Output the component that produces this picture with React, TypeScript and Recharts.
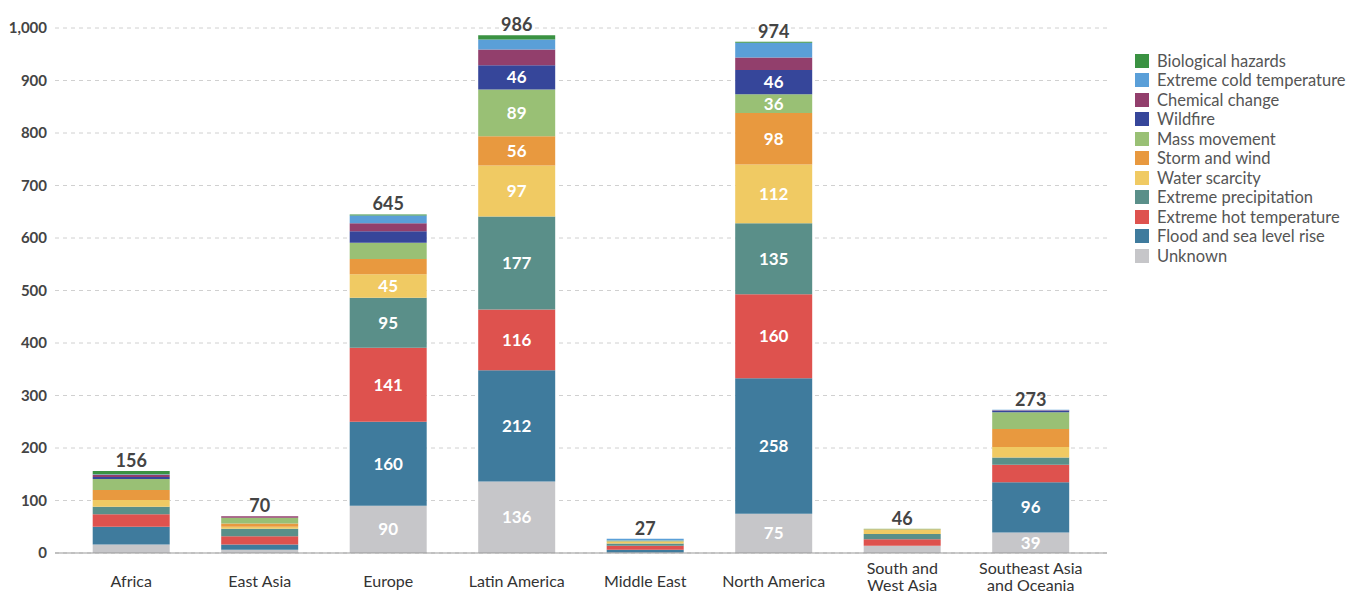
import { BarChart, Bar, XAxis, YAxis, CartesianGrid, LabelList } from "recharts";

// ── Data ──────────────────────────────────────────────────────────────────
const regions = [
  "Africa",
  "East Asia",
  "Europe",
  "Latin America",
  "Middle East",
  "North America",
  "South and West Asia",
  "Southeast Asia and Oceania",
];

// stacked bottom → top
const unknown   = [16, 6, 90, 136, 1, 75, 14, 39];
const flood     = [34, 10, 160, 212, 5, 258, 0, 96];
const hotTemp   = [24, 16, 141, 116, 8, 160, 12, 33];
const precip    = [14, 14, 95, 177, 4, 135, 10, 14];
const water     = [13, 4, 45, 97, 3, 112, 8, 20];
const storm     = [19, 6, 29, 56, 1, 98, 1, 34];
const mass      = [21, 11, 31, 89, 2, 36, 1, 32];
const wildfire  = [4, 0, 22, 46, 0, 46, 0, 3];
const chemical  = [4, 3, 15, 30, 0, 24, 0, 1];
const coldTemp  = [1, 0, 15, 19, 3, 28, 0, 1];
const bio       = [6, 0, 2, 8, 0, 2, 0, 0];

const yTicks = [0, 100, 200, 300, 400, 500, 600, 700, 800, 900, 1000];

const series = [
  { key: "unknown",  name: "Unknown",                 color: "#c6c6c9", values: unknown },
  { key: "flood",    name: "Flood and sea level rise", color: "#3f7b9d", values: flood },
  { key: "hot",      name: "Extreme hot temperature", color: "#de524e", values: hotTemp },
  { key: "precip",   name: "Extreme precipitation",   color: "#5a8f89", values: precip },
  { key: "water",    name: "Water scarcity",          color: "#f0ca63", values: water },
  { key: "storm",    name: "Storm and wind",          color: "#e8993f", values: storm },
  { key: "mass",     name: "Mass movement",           color: "#99c075", values: mass },
  { key: "wildfire", name: "Wildfire",                color: "#36469a", values: wildfire },
  { key: "chemical", name: "Chemical change",         color: "#923f6c", values: chemical },
  { key: "cold",     name: "Extreme cold temperature", color: "#5a9fd8", values: coldTemp },
  { key: "bio",      name: "Biological hazards",      color: "#3a9242", values: bio },
];

const data = regions.map((region, i) => {
  const row: Record<string, string | number> = { region };
  let total = 0;
  series.forEach((s) => {
    row[s.key] = s.values[i];
    total += s.values[i];
  });
  row.total = total;
  return row;
});

const FONT = "Lato, 'Open Sans', sans-serif";

// ── Custom pieces ─────────────────────────────────────────────────────────
function SegmentLabel(props: any) {
  const { x, y, width, height, value } = props;
  if (value == null || value < 35) return null;
  return (
    <text
      x={x + width / 2}
      y={y + height / 2}
      dy={6}
      textAnchor="middle"
      fill="#ffffff"
      fontSize={17}
      fontWeight={700}
      fontFamily={FONT}
    >
      {value}
    </text>
  );
}

function TotalLabel(props: any) {
  const { x, y, width, value } = props;
  return (
    <text
      x={x + width / 2}
      y={y - 4}
      textAnchor="middle"
      fill="#444"
      fontSize={18}
      fontWeight={700}
      fontFamily={FONT}
    >
      {value}
    </text>
  );
}

function RegionTick({ x, y, payload }: any) {
  const label: string = payload.value;
  let lines = [label];
  if (label === "South and West Asia") lines = ["South and", "West Asia"];
  if (label === "Southeast Asia and Oceania") lines = ["Southeast Asia", "and Oceania"];
  const startY = lines.length === 1 ? y + 26 : y + 13;
  return (
    <text textAnchor="middle" fill="#333" fontSize={16} fontFamily={FONT}>
      {lines.map((l, i) => (
        <tspan key={l} x={x} y={startY + i * 17}>{l}</tspan>
      ))}
    </text>
  );
}

// ── Main component ────────────────────────────────────────────────────────
export default function App() {
  return (
    <div style={{ position: "absolute", left: 0, top: 0, width: 1347, height: 596, background: "#fff", fontFamily: FONT }}>
      <BarChart
        width={1347}
        height={596}
        data={data}
        margin={{ top: 28, right: 240, left: 0, bottom: 0 }}
        barCategoryGap="20%"
      >
        <CartesianGrid strokeDasharray="4 4" stroke="#d0d0d0" vertical={false} />
        <XAxis
          dataKey="region"
          interval={0}
          tickLine={false}
          axisLine={{ stroke: "#999" }}
          padding={{ left: 12, right: 12 }}
          height={43}
          tick={<RegionTick />}
        />
        {/* hidden twin axis so the invisible totals bar sits over each stack */}
        <XAxis xAxisId="totals" dataKey="region" hide padding={{ left: 12, right: 12 }} />
        <YAxis
          domain={[0, 1000]}
          ticks={yTicks}
          width={55}
          tickLine={false}
          axisLine={false}
          tickMargin={2}
          tickFormatter={(v: number) => v.toLocaleString("en-US")}
          tick={{ fontSize: 15, fontWeight: 700, fill: "#444", fontFamily: FONT }}
        />
        {series.map((s) => (
          <Bar key={s.key} dataKey={s.key} name={s.name} stackId="a" fill={s.color} isAnimationActive={false}>
            <LabelList dataKey={s.key} content={<SegmentLabel />} />
          </Bar>
        ))}
        <Bar xAxisId="totals" dataKey="total" fill="none" isAnimationActive={false}>
          <LabelList dataKey="total" content={<TotalLabel />} />
        </Bar>
      </BarChart>

      <div style={{ position: "absolute", left: 1135, top: 51 }}>
        {[...series].reverse().map((s) => (
          <div key={s.key} style={{ display: "flex", alignItems: "center", height: 19.5 }}>
            <span style={{ display: "inline-block", width: 14, height: 14, background: s.color, marginRight: 8 }} />
            <span style={{ fontSize: 16.5, color: "#555", whiteSpace: "nowrap" }}>{s.name}</span>
          </div>
        ))}
      </div>
    </div>
  );
}
